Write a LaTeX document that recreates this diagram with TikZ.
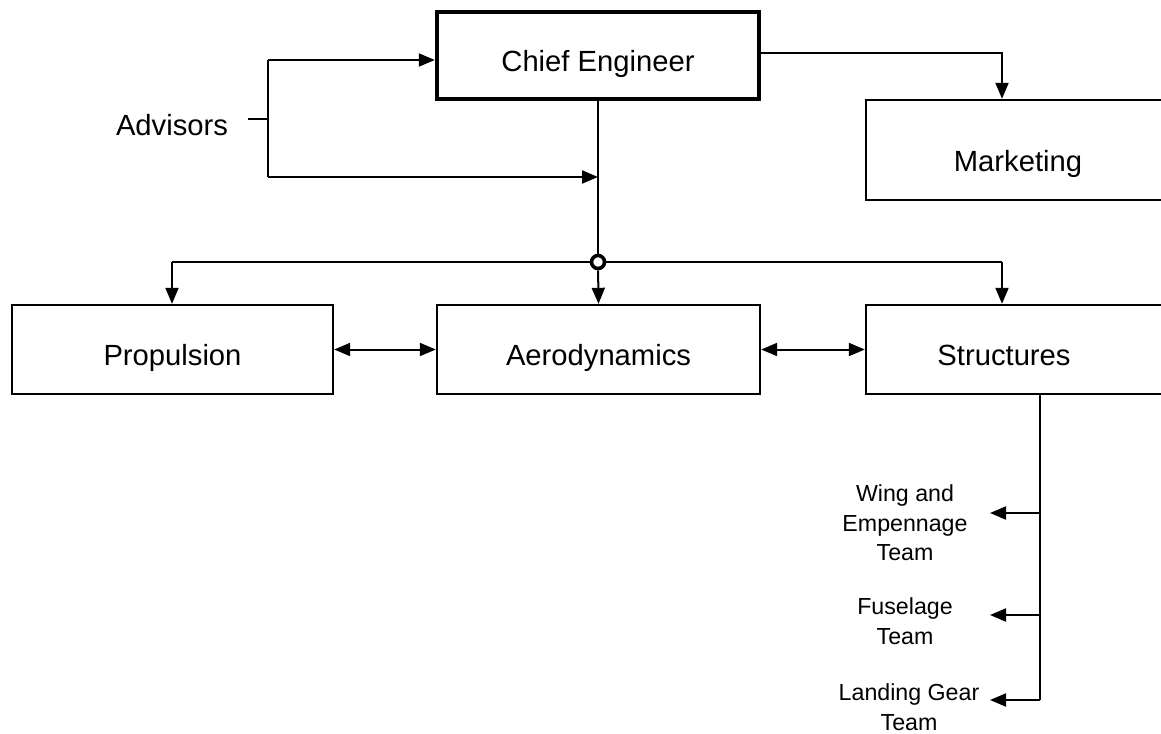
\documentclass[tikz,border=0pt]{standalone}
\usepackage{fontspec}
\setmainfont{Liberation Sans}
\usetikzlibrary{arrows.meta}
\begin{document}
\begin{tikzpicture}[x=0.5pt,y=-0.5pt,
  box/.style={draw,line width=1.2pt,inner sep=0pt,text height=15.7pt,text depth=0pt,font=\fontsize{14.6}{17}\selectfont},
  lbl/.style={inner sep=0pt,font=\fontsize{14.6}{17}\selectfont},
  team/.style={inner sep=0pt,align=center,font=\fontsize{11.6}{14.75}\selectfont},
  conn/.style={line width=1pt},
  arr/.style={conn,-{Triangle[length=8pt,width=6.5pt]}},
  darr/.style={conn,{Triangle[length=8pt,width=6.5pt]}-{Triangle[length=8pt,width=6.5pt]}},
  junction/.style={circle,draw,fill=white,line width=1.8pt,inner sep=0pt,minimum size=6.5pt}]
\useasboundingbox[fill=white] (0,0) rectangle (1161,733);
% boxes
\node[box,line width=2.2pt,text height=16pt,minimum width=161pt,minimum height=43.5pt] (chief) at (598,55.5) {Chief Engineer};
\node[box,text height=21.5pt,minimum width=152pt,minimum height=50pt] (mkt) at (1018,150) {Marketing};
\node[box,minimum width=160.5pt,minimum height=44.5pt] (prop) at (172.5,349.5) {Propulsion};
\node[box,minimum width=161.5pt,minimum height=44.5pt] (aero) at (598.5,349.5) {Aerodynamics};
\node[box,minimum width=152pt,minimum height=44.5pt] (struc) at (1018,349.5) {\hspace*{-14pt}Structures};
% labels
\node[lbl] (adv) at (172,125) {Advisors};
\node[team] (wing) at (905,523) {Wing and\\Empennage\\Team};
\node[team] (fus) at (905,621) {Fuselage\\Team};
\node[team] (land) at (909,707) {Landing Gear\\Team};
% junction
\node[junction] (junc) at (598,262) {};
% coordinates
\coordinate (advT) at (268,60);
\coordinate (advB) at (268,177);
\coordinate (advJ) at (268,119);
\coordinate (advS) at (248,119);
\coordinate (mktE) at (1002,53);
\coordinate (hL) at (172,262);
\coordinate (hR) at (1002,262);
\coordinate (sbot) at (1040,700);
\coordinate (tip) at (990,0);
\coordinate (r1) at (1040,513);
\coordinate (r2) at (1040,615);
\coordinate (r3) at (1040,700);
% advisors
\draw[conn] (advS) -- (advJ);
\draw[conn] (advT) -- (advB);
\draw[arr] (advT) -- (advT -| chief.west);
\draw[arr] (advB) -- (advB -| chief.south);
% chief to marketing
\draw[arr] (mktE -| chief.east) -- (mktE) -- (mktE |- mkt.north);
% chief to departments
\draw[conn] (chief.south) -- (junc);
\draw[conn] (hL) -- (junc.west);
\draw[conn] (junc.east) -- (hR);
\draw[arr] (hL) -- (hL |- prop.north);
\draw[arr] (junc) -- (aero.north);
\draw[arr] (hR) -- (hR |- struc.north);
\draw[darr] (prop.east) -- (aero.west);
\draw[darr] (aero.east) -- (struc.west);
% structures teams
\draw[conn] (sbot |- struc.south) -- (sbot);
\draw[arr] (r1) -- (r1 -| tip);
\draw[arr] (r2) -- (r2 -| tip);
\draw[arr] (r3) -- (r3 -| tip);
\end{tikzpicture}
\end{document}
